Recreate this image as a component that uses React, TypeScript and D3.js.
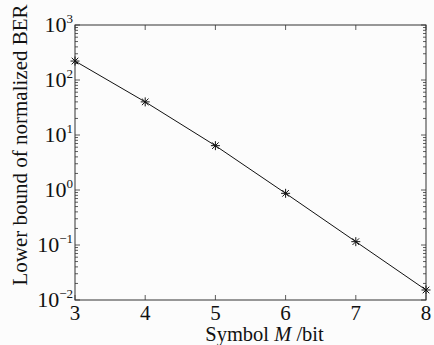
import React, { useEffect, useRef } from "react";
import * as d3 from "d3";

const symbolBits = [3, 4, 5, 6, 7, 8];
const berBound = [221, 40, 6.4, 0.87, 0.115, 0.0152];
const xTicks = [3, 4, 5, 6, 7, 8];
const yExponents = [-2, -1, 0, 1, 2, 3];

const W = 434;
const H = 345;
const margin = { top: 25, right: 8, bottom: 45, left: 75 };
const FONT = "Liberation Serif";

export default function App() {
  const ref = useRef<SVGSVGElement>(null);

  useEffect(() => {
    const svg = d3.select(ref.current);
    svg.selectAll("*").remove();

    const x = d3.scaleLinear().domain([3, 8]).range([margin.left, W - margin.right]);
    const y = d3.scaleLog().domain([1e-2, 1e3]).range([H - margin.bottom, margin.top]);

    const x0 = margin.left, x1 = W - margin.right;
    const y0 = H - margin.bottom, y1 = margin.top;

    svg.append("rect").attr("width", W).attr("height", H).attr("fill", "#fcfcfc");

    // ticks (inward, all four sides)
    const g = svg.append("g").attr("stroke", "#333").attr("stroke-width", 0.8);
    xTicks.forEach(t => {
      g.append("line").attr("x1", x(t)).attr("x2", x(t)).attr("y1", y0).attr("y2", y0 - 5);
      g.append("line").attr("x1", x(t)).attr("x2", x(t)).attr("y1", y1).attr("y2", y1 + 5);
    });
    yExponents.forEach(e => {
      const yy = y(Math.pow(10, e));
      g.append("line").attr("x1", x0).attr("x2", x0 + 5).attr("y1", yy).attr("y2", yy);
      g.append("line").attr("x1", x1).attr("x2", x1 - 5).attr("y1", yy).attr("y2", yy);
      if (e < 3) {
        for (let k = 2; k <= 9; k++) {
          const ym = y(k * Math.pow(10, e));
          g.append("line").attr("x1", x0).attr("x2", x0 + 3).attr("y1", ym).attr("y2", ym);
          g.append("line").attr("x1", x1).attr("x2", x1 - 3).attr("y1", ym).attr("y2", ym);
        }
      }
    });

    svg.append("rect")
      .attr("x", x0).attr("y", y1)
      .attr("width", x1 - x0).attr("height", y0 - y1)
      .attr("fill", "none").attr("stroke", "#333").attr("stroke-width", 1);

    // x tick labels
    svg.selectAll(".xt")
      .data(xTicks)
      .enter()
      .append("text")
      .attr("class", "xt")
      .attr("x", d => x(d))
      .attr("y", y0 + 20)
      .attr("text-anchor", "middle")
      .attr("font-family", FONT)
      .attr("font-size", 21)
      .attr("fill", "#111")
      .text(d => d);

    // y tick labels 10^e
    yExponents.forEach(e => {
      const t = svg.append("text")
        .attr("x", x0 - 2)
        .attr("y", y(Math.pow(10, e)) + 7)
        .attr("text-anchor", "end")
        .attr("font-family", FONT)
        .attr("font-size", 22)
        .attr("fill", "#111");
      t.append("tspan").text("10");
      t.append("tspan").attr("dy", -9).attr("font-size", 13).text(e < 0 ? "\u2212" + (-e) : String(e));
    });

    // line + markers
    const pts = symbolBits.map((b, i) => [x(b), y(berBound[i])] as [number, number]);
    svg.append("path")
      .attr("d", d3.line()(pts))
      .attr("fill", "none")
      .attr("stroke", "#111")
      .attr("stroke-width", 1);

    const r = 4.5, rd = 3.3;
    const mk = svg.append("g").attr("stroke", "#111").attr("stroke-width", 1);
    pts.forEach(([px, py]) => {
      mk.append("line").attr("x1", px - r).attr("x2", px + r).attr("y1", py).attr("y2", py);
      mk.append("line").attr("x1", px).attr("x2", px).attr("y1", py - r).attr("y2", py + r);
      mk.append("line").attr("x1", px - rd).attr("x2", px + rd).attr("y1", py - rd).attr("y2", py + rd);
      mk.append("line").attr("x1", px - rd).attr("x2", px + rd).attr("y1", py + rd).attr("y2", py - rd);
    });

    // axis titles
    const xl = svg.append("text")
      .attr("x", (x0 + x1) / 2 + 14)
      .attr("y", 341)
      .attr("text-anchor", "middle")
      .attr("font-family", FONT)
      .attr("font-size", 20.5)
      .attr("fill", "#111");
    xl.append("tspan").text("Symbol ");
    xl.append("tspan").attr("font-style", "italic").text("M");
    xl.append("tspan").text(" /bit");

    svg.append("text")
      .attr("transform", `translate(27, ${145}) rotate(-90)`)
      .attr("text-anchor", "middle")
      .attr("font-family", FONT)
      .attr("font-size", 21)
      .attr("fill", "#111")
      .text("Lower bound of normalized BER");
  }, []);

  return (
    <svg ref={ref} width={W} height={H} style={{ position: "absolute", left: 0, top: 0 }} />
  );
}
